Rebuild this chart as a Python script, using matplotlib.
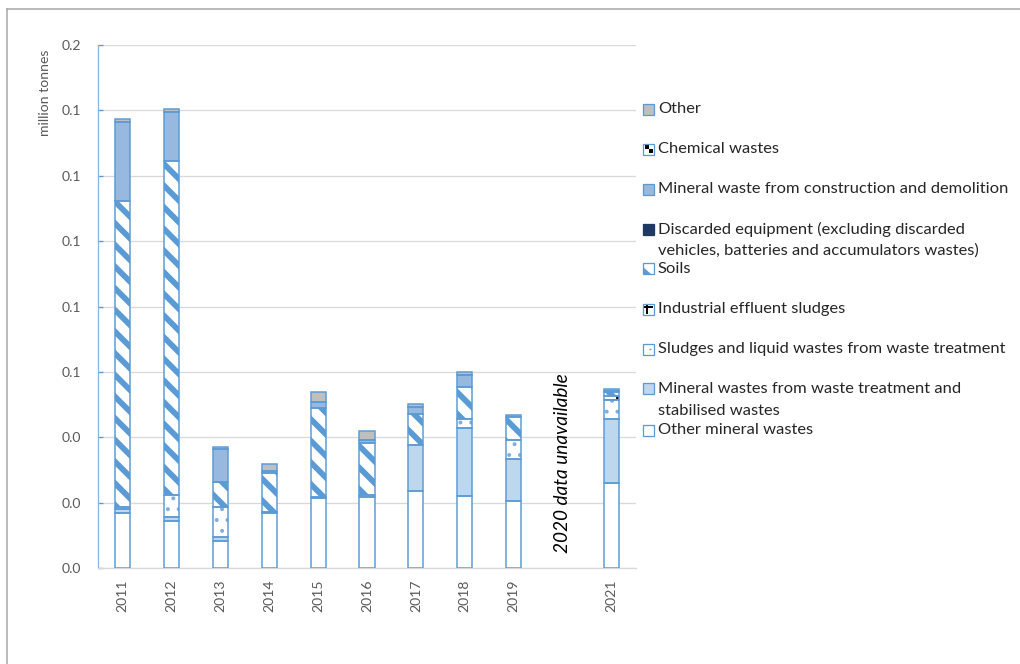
import matplotlib
matplotlib.use("Agg")
import matplotlib.pyplot as plt
from matplotlib.patches import Rectangle, Polygon, Circle
from matplotlib.lines import Line2D
import numpy as np

# ---- data (million tonnes) ----
years = ["2011", "2012", "2013", "2014", "2015", "2016", "2017", "2018", "2019", "2020", "2021"]
tick_labels = ["2011", "2012", "2013", "2014", "2015", "2016", "2017", "2018", "2019", "", "2021"]

other_mineral = [0.0168, 0.0145, 0.0083, 0.0167, 0.0213, 0.0218, 0.0236, 0.0221, 0.0206, 0.0, 0.0259]
mineral_treatment = [0.0012, 0.0012, 0.0011, 0.0003, 0.0005, 0.0005, 0.0141, 0.0206, 0.0128, 0.0, 0.0198]
sludges_liquid = [0.0006, 0.0066, 0.0092, 0.0, 0.0, 0.0, 0.0, 0.0028, 0.0058, 0.0, 0.0058]
industrial_sludges = [0.0, 0.0, 0.0, 0.0, 0.0, 0.0, 0.0, 0.0, 0.0, 0.0, 0.0012]
soils = [0.0938, 0.1022, 0.0078, 0.0122, 0.0273, 0.0160, 0.0095, 0.0098, 0.0071, 0.0, 0.0010]
discarded_equipment = [0.0, 0.0, 0.0, 0.0, 0.0, 0.0, 0.0, 0.0, 0.0, 0.0, 0.0003]
construction_demolition = [0.0240, 0.0149, 0.0100, 0.0005, 0.0017, 0.0008, 0.0020, 0.0036, 0.0005, 0.0, 0.0007]
chemical = [0.0, 0.0, 0.0, 0.0, 0.0, 0.0, 0.0, 0.0, 0.0, 0.0, 0.0]
other = [0.0010, 0.0010, 0.0007, 0.0020, 0.0029, 0.0028, 0.0009, 0.0010, 0.0, 0.0, 0.0]

y_ticks = [0.0, 0.02, 0.04, 0.06, 0.08, 0.10, 0.12, 0.14, 0.16]

# ---- styling ----
DPI = 130
W, H = 1020, 664
EDGE = "#5B9BD5"
GRID = "#D9D9D9"
GRAY_TXT = "#595959"
TXT = "#262626"
FONT = "Lato"

plt.rcParams["font.family"] = [FONT, "DejaVu Sans"]


def px(v):
    """pixels -> points"""
    return v * 72.0 / DPI


# stacking order from bottom to top:
# (key, label, values, face, hatch, hatch colour, hatch linewidth)
series = [
    ("othmin", "Other mineral wastes", other_mineral, "white", None, EDGE, 1.0),
    ("treat", "Mineral wastes from waste treatment and\nstabilised wastes", mineral_treatment, "#BDD7EE", None, EDGE, 1.0),
    ("sludge", "Sludges and liquid wastes from waste treatment", sludges_liquid, "white", "..", "#7FB0E0", 1.0),
    ("indus", "Industrial effluent sludges", industrial_sludges, "white", "+", "black", 1.5),
    ("soils", "Soils", soils, "white", "\\\\", EDGE, 3.2),
    ("disc", "Discarded equipment (excluding discarded\nvehicles, batteries and accumulators wastes)",
     discarded_equipment, "#1F3864", None, "#1F3864", 1.0),
    ("cd", "Mineral waste from construction and demolition", construction_demolition, "#97B9E0", None, EDGE, 1.0),
    ("chem", "Chemical wastes", chemical, "white", "xx", "black", 1.0),
    ("other", "Other", other, "#BFBFBF", None, EDGE, 1.0),
]

fig = plt.figure(figsize=(W / DPI, H / DPI), dpi=DPI)
ax = fig.add_axes([98 / W, (H - 568) / H, (636 - 98) / W, (568 - 45) / H])

x = np.arange(len(years))
width = 0.31
bottom = np.zeros(len(years))
for key, label, vals, fc, hatch, hc, hlw in series:
    vals = np.asarray(vals, dtype=float)
    m = vals > 0
    if m.any():
        with plt.rc_context({"hatch.linewidth": hlw}):
            bars = ax.bar(x[m], vals[m], width, bottom=bottom[m], color=fc,
                          edgecolor=hc, linewidth=0, hatch=hatch, zorder=2)
        for b in bars:
            if hasattr(b, "set_hatch_linewidth"):
                b.set_hatch_linewidth(hlw)
        ax.bar(x[m], vals[m], width, bottom=bottom[m], fill=False,
               edgecolor=EDGE, linewidth=px(1.5), zorder=3)
    bottom += vals

ax.set_xlim(-0.5, len(years) - 0.5)
ax.set_ylim(0, 0.16)
ax.set_yticks(y_ticks)
ax.set_yticklabels([f"{v:.1f}" for v in y_ticks])
ax.set_xticks(x)
ax.set_xticklabels(tick_labels, rotation=90)

ax.yaxis.grid(True, color=GRID, linewidth=px(1.3))
ax.set_axisbelow(True)
for s in ("top", "right"):
    ax.spines[s].set_visible(False)
ax.spines["left"].set_color("#8EB4E3")
ax.spines["left"].set_linewidth(px(1.3))
ax.spines["bottom"].set_color(GRID)
ax.spines["bottom"].set_linewidth(px(1.3))
ax.tick_params(axis="y", direction="in", length=px(5), width=px(1.3), color=EDGE,
               pad=px(17), labelsize=px(14), labelcolor=GRAY_TXT)
ax.tick_params(axis="x", length=0, pad=px(12), labelsize=px(14), labelcolor=GRAY_TXT)

ax.text(9, 0.0045, "2020 data unavailable", rotation=90, ha="center", va="bottom",
        fontsize=px(19), fontstyle="italic", color="black", zorder=4)

fig.text(45 / W, 1 - 50 / H, "million tonnes", rotation=90, ha="center", va="top",
         fontsize=px(14), color=GRAY_TXT)

# ---- legend ----
legend_rows = [109, 149, 189, 229, 269, 309, 349, 389, 430]
sw = 11
sx = 643
tx = 658


def fbox(x0, y0, w, h, **kw):
    """rectangle in pixel coordinates measured from the top-left corner"""
    return Rectangle((x0 / W, 1 - (y0 + h) / H), w / W, h / H,
                     transform=fig.transFigure, **kw)


for (key, label, vals, fc, hatch, hc, hlw), yc in zip(series[::-1], legend_rows):
    top = yc - sw / 2
    fig.add_artist(fbox(sx, top, sw, sw, facecolor=fc, edgecolor="none"))
    if key == "chem":
        fig.add_artist(fbox(sx + 1.5, top + 1.5, 4, 4, facecolor="black", edgecolor="none"))
        fig.add_artist(fbox(sx + 5.5, top + 5.5, 4, 4, facecolor="black", edgecolor="none"))
    elif key == "indus":
        fig.add_artist(fbox(sx + 1, top + 2.5, sw - 2, 2.2, facecolor="black", edgecolor="none"))
        fig.add_artist(fbox(sx + 3.2, top + 1, 2.2, sw - 2, facecolor="black", edgecolor="none"))
    elif key == "soils":
        pts = [(sx, top + 3), (sx, top + sw), (sx + sw - 3, top + sw)]
        fig.add_artist(Polygon([(a / W, 1 - b / H) for a, b in pts], closed=True,
                               transform=fig.transFigure, facecolor=EDGE, edgecolor="none"))
    elif key == "sludge":
        fig.add_artist(Circle(((sx + 7.5) / W, 1 - (top + 6) / H), 1.3 / W,
                              transform=fig.transFigure, facecolor="#7FB0E0", edgecolor="none"))
    edge = "#1F3864" if key == "disc" else EDGE
    fig.add_artist(fbox(sx, top, sw, sw, fill=False, edgecolor=edge, linewidth=px(1.3)))
    for i, line in enumerate(label.split("\n")):
        fig.text(tx / W, 1 - (yc + i * 22) / H, line, ha="left", va="center",
                 fontsize=px(16.5), color=TXT)

# outer frame
frame_kw = dict(color="#A6A6A6", linewidth=px(1.5), transform=fig.transFigure)
fig.add_artist(Line2D([7 / W, 1], [1 - 9 / H, 1 - 9 / H], **frame_kw))
fig.add_artist(Line2D([7 / W, 7 / W], [0, 1 - 9 / H], **frame_kw))

fig.savefig("out.png", dpi=DPI)
